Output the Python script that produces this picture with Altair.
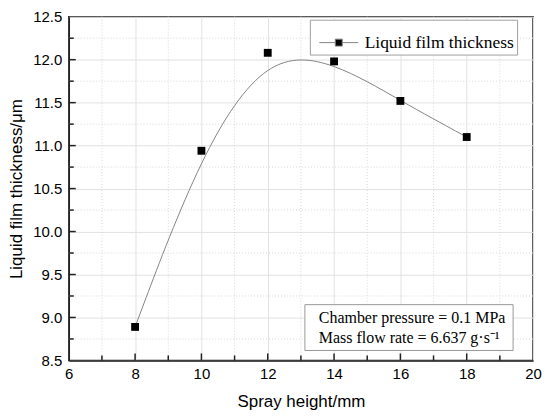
import altair as alt
import pandas as pd

heights = [8, 10, 12, 14, 16, 18]
thickness = [8.89, 10.94, 12.08, 11.98, 11.52, 11.10]
series_name = "Liquid film thickness"
x_major = [6, 8, 10, 12, 14, 16, 18, 20]
x_minor = [7, 9, 11, 13, 15, 17, 19]
y_major = [8.5, 9.0, 9.5, 10.0, 10.5, 11.0, 11.5, 12.0, 12.5]
y_minor = [8.75, 9.25, 9.75, 10.25, 10.75, 11.25, 11.75, 12.25]
note_lines = ["Chamber pressure = 0.1 MPa", "Mass flow rate = 6.637 g\u00b7s\u207b\u00b9"]

W, H = 466, 345
SANS = "Liberation Sans"
SERIF = "Liberation Serif"

df = pd.DataFrame({"h": heights, "t": thickness, "s": [series_name] * len(heights)})
xmaj = pd.DataFrame({"v": x_major[1:-1]})
xmin = pd.DataFrame({"v": x_minor})
ymaj = pd.DataFrame({"v": y_major[1:-1]})
ymin = pd.DataFrame({"v": y_minor})
note1 = pd.DataFrame({"txt": [note_lines[0]]})
note2 = pd.DataFrame({"txt": [note_lines[1]]})

xs = alt.Scale(domain=[6, 20], nice=False, zero=False)
ys = alt.Scale(domain=[8.5, 12.5], nice=False, zero=False)

x_axis = alt.Axis(values=x_major, title="Spray height/mm", grid=True, ticks=False,
                  labelFont=SANS, labelFontSize=15, labelPadding=6, labelColor="#000",
                  titleFont=SANS, titleFontSize=17, titleFontWeight="normal", titlePadding=12,
                  titleColor="#000", domainColor="#222", domainWidth=1.5,
                  gridColor="#e2e2e2", gridWidth=1, format="d", labelFlush=False)
y_axis = alt.Axis(values=y_major, title="Liquid film thickness/\u03bcm", grid=True, ticks=False,
                  labelFont=SANS, labelFontSize=15, labelPadding=7, labelColor="#000",
                  titleFont=SANS, titleFontSize=17, titleFontWeight="normal", titlePadding=7,
                  titleColor="#000", domainColor="#222", domainWidth=1.5,
                  gridColor="#e2e2e2", gridWidth=1, format=".1f", labelFlush=False)

grid_x_minor = alt.Chart(xmin).mark_rule(color="#d8d8d8", strokeDash=[1, 2], strokeWidth=1).encode(
    x=alt.X("v:Q", scale=xs, axis=x_axis))
grid_y_minor = alt.Chart(ymin).mark_rule(color="#d8d8d8", strokeDash=[1, 2], strokeWidth=1).encode(
    y=alt.Y("v:Q", scale=ys, axis=y_axis))

line = alt.Chart(df).mark_line(interpolate="basis", strokeWidth=1).encode(
    x=alt.X("h:Q", scale=xs, axis=x_axis),
    y=alt.Y("t:Q", scale=ys, axis=y_axis),
    color=alt.Color("s:N", scale=alt.Scale(range=["#858585"]),
                    legend=alt.Legend(title=None, orient="none", legendX=242, legendY=3,
                                      strokeColor="#a0a0a0", fillColor="white", padding=3,
                                      symbolType="M-1,0H-0.18M0.18,0H1M-0.18,-0.18H0.18V0.18H-0.18Z",
                                      symbolSize=1521, symbolStrokeWidth=1,
                                      symbolFillColor="#000", symbolStrokeColor="#858585",
                                      symbolOffset=6, labelOffset=6,
                                      labelFont=SERIF, labelFontSize=17.5, labelColor="#000")))

points = alt.Chart(df).mark_square(size=62, color="#000", opacity=1).encode(
    x=alt.X("h:Q", scale=xs), y=alt.Y("t:Q", scale=ys))

ticks_x_major = alt.Chart(xmaj).mark_rule(color="#222", strokeWidth=1.5).encode(
    x=alt.X("v:Q", scale=xs), y=alt.value(H), y2=alt.value(H - 7))
ticks_x_minor = alt.Chart(xmin).mark_rule(color="#222", strokeWidth=1.5).encode(
    x=alt.X("v:Q", scale=xs), y=alt.value(H), y2=alt.value(H - 5))
ticks_y_major = alt.Chart(ymaj).mark_rule(color="#222", strokeWidth=1.5).encode(
    y=alt.Y("v:Q", scale=ys), x=alt.value(0), x2=alt.value(7))
ticks_y_minor = alt.Chart(ymin).mark_rule(color="#222", strokeWidth=1.5).encode(
    y=alt.Y("v:Q", scale=ys), x=alt.value(0), x2=alt.value(5))

note_box = alt.Chart(note1).mark_rect(fill="white", stroke="#999", strokeWidth=1).encode(
    x=alt.value(237), x2=alt.value(446), y=alt.value(289), y2=alt.value(335))
note_text1 = alt.Chart(note1).mark_text(align="left", baseline="middle", font=SERIF,
                                         fontSize=16, color="#000").encode(
    x=alt.value(251), y=alt.value(302), text="txt:N")
note_text2 = alt.Chart(note2).mark_text(align="left", baseline="middle", font=SERIF,
                                         fontSize=16, color="#000").encode(
    x=alt.value(251), y=alt.value(323), text="txt:N")

chart = alt.layer(
    grid_x_minor, grid_y_minor, line, points, note_box, note_text1, note_text2,
    ticks_x_major, ticks_x_minor, ticks_y_major, ticks_y_minor
).properties(
    width=W, height=H,
    autosize=alt.AutoSizeParams(type="none"),
    padding={"left": 61, "top": 8, "right": 9, "bottom": 49},
).configure_view(stroke="#222", strokeWidth=1.5)

chart.save("out.html", embed_options={"renderer": "svg", "actions": False})
